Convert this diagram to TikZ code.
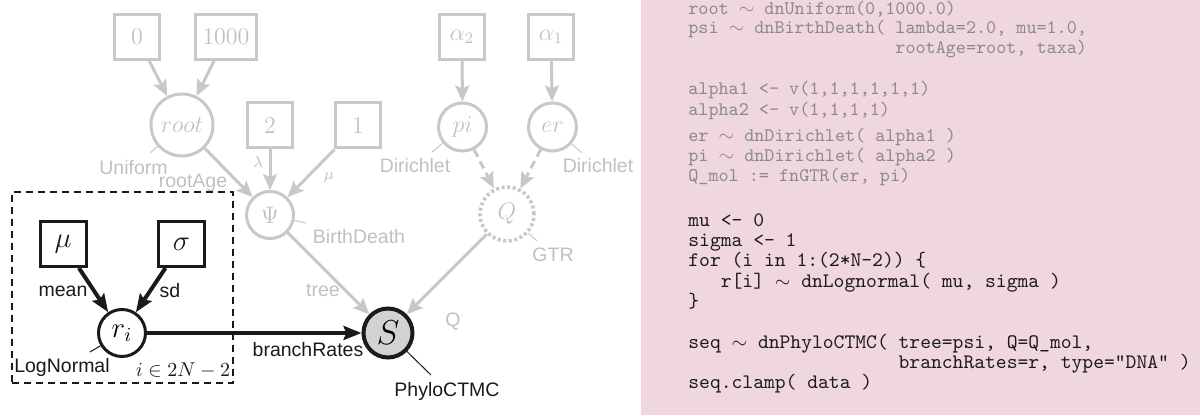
\documentclass[tikz,border=0pt]{standalone}
\usepackage{fontspec}
\setsansfont{Liberation Sans}
\usetikzlibrary{arrows.meta}
\definecolor{lg}{RGB}{200,200,200}
\definecolor{lgt}{RGB}{192,192,192}
\definecolor{pinkbg}{RGB}{240,214,222}
\definecolor{codegray}{RGB}{138,138,138}
\definecolor{sfill}{RGB}{210,210,212}
\definecolor{blk}{RGB}{26,26,26}
\begin{document}
\begin{tikzpicture}[x=0.5pt,y=-0.5pt,
  gbox/.style={draw=lg,line width=1.5pt,minimum width=22.5pt,minimum height=22.5pt,inner sep=0pt,text=lgt,font=\fontsize{11.5}{13}\selectfont},
  bbox/.style={draw=blk,line width=1.5pt,minimum width=23pt,minimum height=22.5pt,inner sep=0pt,text=blk,font=\fontsize{15}{17}\selectfont},
  gcirc/.style={circle,draw=lg,line width=1.5pt,inner sep=0pt,text=lgt,font=\fontsize{12}{14}\selectfont},
  garr/.style={draw=lg,line width=1.5pt,-{Stealth[length=8pt,width=7pt,inset=1.5pt]}},
  gdash/.style={garr,dash pattern=on 4pt off 2.5pt},
  barr/.style={draw=blk,line width=2pt,-{Stealth[length=9pt,width=7pt,inset=1.5pt]}},
  glab/.style={text=lgt,font=\sffamily\fontsize{9.75}{11}\selectfont,inner sep=0pt,anchor=base},
  blab/.style={glab,text=blk},
  gsmall/.style={text=lgt,font=\fontsize{8}{9}\selectfont,inner sep=0pt},
  gtag/.style={draw=lg,line width=0.5pt},
  btag/.style={draw=blk,line width=0.5pt},
  gcode/.style={anchor=base west,inner sep=0pt,font=\fontsize{9.6}{11}\ttfamily,text=codegray},
  bcode/.style={anchor=base west,inner sep=0pt,font=\fontsize{10.3}{12}\ttfamily,text=blk},
]
\useasboundingbox (0,0) rectangle (1200,416);
\fill[pinkbg] (641,0) rectangle (1200,415);

% plate
\node[draw=blk,line width=1pt,dash pattern=on 3.5pt off 2.5pt,minimum width=110.5pt,minimum height=95.5pt,inner sep=0pt] (plate) at (122.5,287.5) {};

% gray constant boxes
\node[gbox] (n0) at (137,37) {$0$};
\node[gbox,minimum width=30.5pt] (n1000) at (226,37) {$1000$};
\node[gbox] (nlam) at (270,125.5) {$2$};
\node[gbox] (nmu) at (358,125.5) {$1$};
\node[gbox] (a2) at (462,37) {$\alpha_2$};
\node[gbox] (a1) at (551,37) {$\alpha_1$};

% gray stochastic nodes
\node[gcirc,minimum size=31pt] (root) at (182,125) {$root$};
\node[gcirc,minimum size=23.5pt,font=\fontsize{13}{15}\selectfont] (psi) at (270,215) {$\Psi$};
\node[gcirc,minimum size=24pt] (pi) at (462.5,127) {$pi$};
\node[gcirc,minimum size=24pt] (er) at (552.5,127) {$er$};
\node[gcirc,minimum size=27pt,line width=1.8pt,dash pattern=on 1.5pt off 1.3pt] (Q) at (507,214) {$Q$};

% black nodes
\node[bbox] (bmu) at (63,244) {$\mu$};
\node[bbox] (bsig) at (181.5,244) {$\sigma$};
\node[circle,draw=blk,line width=1.5pt,minimum size=23.5pt,inner sep=0pt,font=\fontsize{14}{16}\selectfont] (ri) at (122,333) {$r_i$};
\node[circle,draw=blk,fill=sfill,line width=2pt,minimum size=24.5pt,inner sep=0pt,font=\fontsize{16}{18}\selectfont] (S) at (388,333) {$S$};

% gray edges
\draw[garr] (n0) -- (root);
\draw[garr] (n1000) -- (root);
\draw[garr] (root) -- (psi);
\draw[garr] (nlam) -- (psi);
\draw[garr] (nmu) -- (psi);
\draw[garr] (a2) -- (pi);
\draw[garr] (a1) -- (er);
\draw[gdash] (pi) -- (Q);
\draw[gdash] (er) -- (Q);
\draw[garr] (psi) -- (S);
\draw[garr] (Q) -- (S);

% black edges
\draw[barr] (bmu) -- (ri);
\draw[barr] (bsig) -- (ri);
\draw[barr] (ri) -- (S);

% edge labels
\node[glab] (lroot) at (193,188) {rootAge};
\node[gsmall] (llam) at (258,162) {$\lambda$};
\node[gsmall] (lmu) at (329,178) {$\mu$};
\node[glab] (ltree) at (323,297) {tree};
\node[glab] (lQ) at (453,327) {Q};
\node[blab] (lmean) at (63,296.7) {mean};
\node[blab] (lsd) at (170,298) {sd};
\node[blab] (lbr) at (308,356.7) {branchRates};

% distribution tags
\coordinate (tUni) at (150,153);
\coordinate (tBD) at (306,223);
\coordinate (tDL) at (432,152);
\coordinate (tDR) at (582,153);
\coordinate (tGTR) at (537,241);
\coordinate (tPC) at (431,375);
\coordinate (tLN) at (90,352);
\draw[gtag] (root) -- (tUni);
\draw[gtag] (psi) -- (tBD);
\draw[gtag] (pi) -- (tDL);
\draw[gtag] (er) -- (tDR);
\draw[gtag] (Q) -- (tGTR);
\draw[btag] (S) -- (tPC);
\draw[btag] (ri) -- (tLN);
\node[glab] (dUni) at (133.5,174.5) {Uniform};
\node[glab] (dBD) at (359,244) {BirthDeath};
\node[glab] (dDL) at (415,173) {Dirichlet};
\node[glab] (dDR) at (598,173) {Dirichlet};
\node[glab] (dGTR) at (553,261.7) {GTR};
\node[blab] (dPC) at (447,396.7) {PhyloCTMC};
\node[blab] (dLN) at (62,373) {LogNormal};
\node[blab,font=\fontsize{9.75}{11}\selectfont] (plab) at (183,376.7) {$i\in 2N-2$};

% code
\node[gcode] (c1) at (688,14.5) {root $\sim$ dnUniform(0,1000.0)};
\node[gcode] (c2) at (688,34) {psi $\sim$ dnBirthDeath( lambda=2.0, mu=1.0,};
\node[gcode] (c3) at (688,54) {\phantom{psi $\sim$ dnBirthDeath( }rootAge=root, taxa)};
\node[gcode] (c4) at (688,95) {alpha1 <- v(1,1,1,1,1,1)};
\node[gcode] (c5) at (688,115.2) {alpha2 <- v(1,1,1,1)};
\node[gcode] (c6) at (688,141.5) {er $\sim$ dnDirichlet( alpha1 )};
\node[gcode] (c7) at (688,161.7) {pi $\sim$ dnDirichlet( alpha2 )};
\node[gcode] (c8) at (688,182) {Q\_mol := fnGTR(er, pi)};
\node[bcode] (c9) at (688,226.5) {mu <- 0};
\node[bcode] (c10) at (688,246.7) {sigma <- 1};
\node[bcode] (c11) at (688,266.9) {for (i in 1:(2*N-2)) \{};
\node[bcode] (c12) at (688,287.1) {\phantom{xxx}r[i] $\sim$ dnLognormal( mu, sigma )};
\node[bcode] (c13) at (688,307.3) {\}};
\node[bcode] (c14) at (688,348.3) {seq $\sim$ dnPhyloCTMC( tree=psi, Q=Q\_mol,};
\node[bcode] (c15) at (688,368.6) {\phantom{seq $\sim$ dnPhyloCTMC( }branchRates=r, type="DNA" )};
\node[bcode] (c16) at (688,389) {seq.clamp( data )};
\end{tikzpicture}
\end{document}
